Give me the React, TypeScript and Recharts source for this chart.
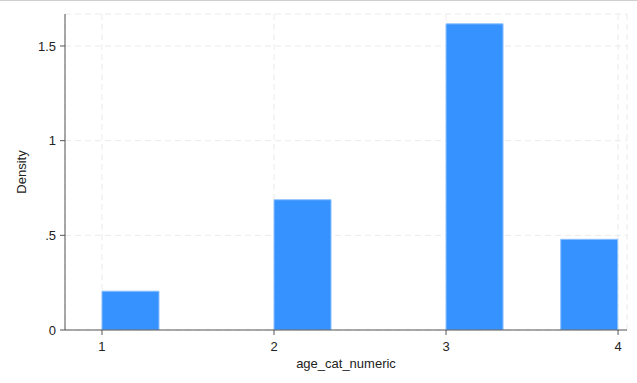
import { BarChart, Bar, XAxis, YAxis, CartesianGrid, Label } from 'recharts';

// bin midpoints (width 1/3) and densities
const binMids = [1.1667, 1.5, 1.8333, 2.1667, 2.5, 2.8333, 3.1667, 3.5, 3.8333];
const densities = [0.205, 0, 0, 0.688, 0, 0, 1.617, 0, 0.479];
const xTicks = [1, 2, 3, 4];
const yTicks = [0, 0.5, 1, 1.5];

const data = binMids.map((x, i) => ({ x, density: densities[i] }));

const fmtY = (v: number) => (v === 0 ? '0' : String(v).replace(/^0\./, '.'));

export default function App() {
  const font = { fontFamily: '"Liberation Sans", Arial, sans-serif', fontSize: 13, fill: '#222' };
  return (
    <div style={{ position: 'absolute', top: 0, left: 0, width: 637, height: 383, background: '#fff' }}>
      <div style={{ position: 'absolute', top: 0, left: 0, width: 637, height: 1, background: '#cfcfcf' }} />
      <BarChart
        width={637}
        height={383}
        data={data}
        margin={{ top: 14, right: 10, left: 0, bottom: 0 }}
        barCategoryGap={0}
        barGap={0}
      >
        <CartesianGrid strokeDasharray="6 4" stroke="#ebebeb" />
        <XAxis
          dataKey="x"
          type="number"
          domain={[0.785, 4.052]}
          ticks={xTicks}
          allowDataOverflow
          height={53}
          tickSize={5}
          tickMargin={7}
          tick={font}
          stroke="#555"
        >
          <Label value="age_cat_numeric" position="insideBottom" offset={15} style={{ ...font, textAnchor: 'middle' }} />
        </XAxis>
        <YAxis
          type="number"
          domain={[0, 1.669]}
          ticks={yTicks}
          allowDataOverflow
          width={65}
          tickSize={5}
          tickMargin={4}
          tick={font}
          tickFormatter={fmtY}
          stroke="#555"
        >
          <Label value="Density" angle={-90} position="insideLeft" offset={21} style={{ ...font, textAnchor: 'middle' }} />
        </YAxis>
        <Bar dataKey="density" fill="#3592ff" stroke="#8cc0ff" strokeWidth={1} isAnimationActive={false} />
      </BarChart>
    </div>
  );
}
